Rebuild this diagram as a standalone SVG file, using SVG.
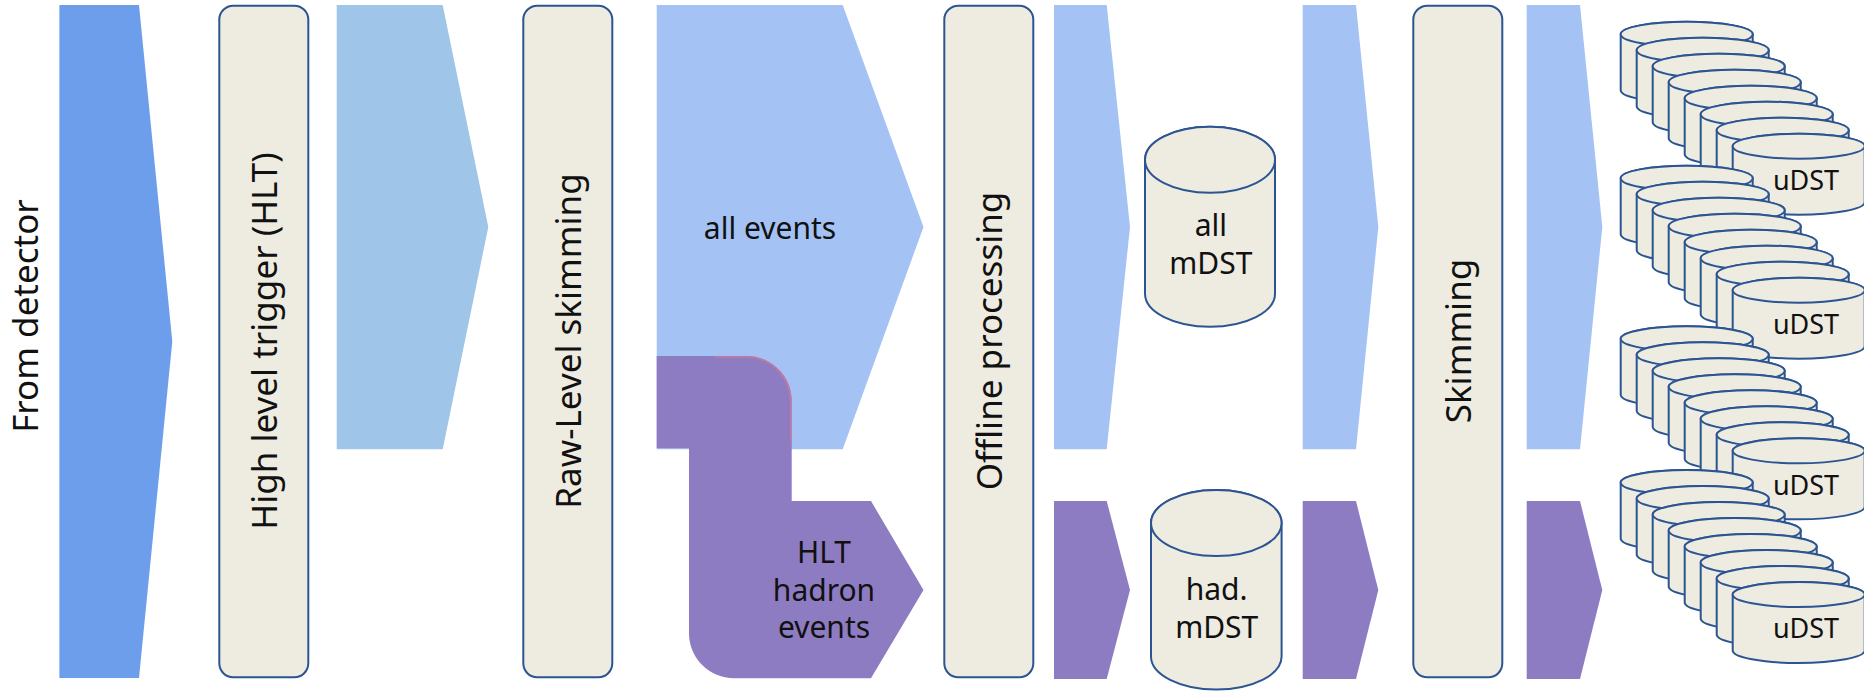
<svg xmlns="http://www.w3.org/2000/svg" xmlns:xlink="http://www.w3.org/1999/xlink" width="1864" height="692" viewBox="0 0 1864 692">
  <style>
    .box { fill: #eeebe0; stroke: #2b5592; stroke-width: 2; }
    .cyl { fill: #eeebe0; stroke: #2b5592; stroke-width: 2; }
    .vt { font-family: "Noto Sans", "Open Sans", sans-serif; font-size: 35px; fill: #111; text-anchor: middle; }
    .lbl { font-family: "Noto Sans", "Open Sans", sans-serif; font-size: 30px; fill: #111; text-anchor: middle; }
    .mlbl { font-family: "Noto Sans", "Open Sans", sans-serif; font-size: 30px; fill: #111; text-anchor: middle; }
    .ulbl { font-family: "Noto Sans", "Open Sans", sans-serif; font-size: 27px; fill: #111; text-anchor: middle; }
    .dark { fill: #6d9eeb; }
    .light1 { fill: #9fc5e8; }
    .light { fill: #a4c2f4; }
    .purple { fill: #8e7cc3; }
  </style>
  <defs>
    <g id="ucyl">
      <path class="cyl" d="M0,12.5 L0,68.5 A66,12.5 0 0 0 132,68.5 L132,12.5 A66,12.5 0 0 0 0,12.5 Z"/>
      <ellipse class="cyl" cx="66" cy="12.5" rx="66" ry="12.5"/>
    </g>
    <g id="ustack">
      <use xlink:href="#ucyl" x="0" y="0"/>
      <use xlink:href="#ucyl" x="16" y="16"/>
      <use xlink:href="#ucyl" x="32" y="32"/>
      <use xlink:href="#ucyl" x="48" y="48"/>
      <use xlink:href="#ucyl" x="64" y="64"/>
      <use xlink:href="#ucyl" x="80" y="80"/>
      <use xlink:href="#ucyl" x="96" y="96"/>
      <use xlink:href="#ucyl" x="112" y="112"/>
    </g>
  </defs>

  <g id="connectors">
    <polygon class="dark" points="59.4,5 139,5 172.3,341.5 139,678 59.4,678"/>
    <polygon class="light1" points="336.7,5 442.7,5 488.3,227 442.7,449.3 336.7,449.3"/>
    <polygon class="light" points="656.7,5 842.7,5 923.5,227 842.7,449.3 656.7,449.3"/>
    <path class="purple" d="M656.7,356 L746.7,356 A45,45 0 0 1 791.7,401 L791.7,501 L871,501 L923.5,590 L871,678.3 L734,678.3 A45,45 0 0 1 689,633.3 L689,448.3 L656.7,448.3 Z"/>
    <path d="M715,357 L746.7,357 A44,44 0 0 1 790.7,401 L790.7,442" fill="none" stroke="#c47a9c" stroke-width="1.5"/>
    <polygon class="light" points="1054,5 1106.7,5 1130,227 1106.7,449.3 1054,449.3"/>
    <polygon class="purple" points="1054,501 1106.7,501 1130,590 1106.7,679 1054,679"/>
    <polygon class="light" points="1302.7,5 1356,5 1378.3,227 1356,449.3 1302.7,449.3"/>
    <polygon class="purple" points="1302.7,501 1356,501 1378.3,590 1356,679 1302.7,679"/>
    <polygon class="light" points="1526.7,5 1580,5 1602.3,227 1580,449.3 1526.7,449.3"/>
    <polygon class="purple" points="1526.7,501 1580,501 1602.3,590 1580,679 1526.7,679"/>
  </g>

  <g id="label-from-detector">
    <text class="vt" transform="translate(38,316) rotate(-90)">From detector</text>
  </g>
  <g id="label-all-events">
    <text class="lbl" x="770" y="239.3">all events</text>
  </g>
  <g id="label-hlt-hadron">
    <text class="lbl" x="824" y="563.3">HLT</text>
    <text class="lbl" x="824" y="601.3">hadron</text>
    <text class="lbl" x="824" y="638.3">events</text>
  </g>

  <g id="node-hlt">
    <rect class="box" x="219.3" y="5.7" width="89" height="671.6" rx="14"/>
    <text class="vt" transform="translate(277,341) rotate(-90)">High level trigger (HLT)</text>
  </g>
  <g id="node-raw-skimming">
    <rect class="box" x="523.3" y="5.7" width="89" height="671.6" rx="14"/>
    <text class="vt" transform="translate(581,341) rotate(-90)">Raw-Level skimming</text>
  </g>
  <g id="node-offline">
    <rect class="box" x="944.3" y="5.7" width="89" height="671.6" rx="14"/>
    <text class="vt" transform="translate(1002,341) rotate(-90)">Offline processing</text>
  </g>
  <g id="node-skimming">
    <rect class="box" x="1413.3" y="5.7" width="89" height="671.6" rx="14"/>
    <text class="vt" transform="translate(1471,341) rotate(-90)">Skimming</text>
  </g>

  <g id="node-all-mdst">
    <path class="cyl" d="M1145,159.7 L1145,293.7 A65,33 0 0 0 1275,293.7 L1275,159.7 A65,33 0 0 0 1145,159.7 Z"/>
    <ellipse class="cyl" cx="1210" cy="159.7" rx="65" ry="33"/>
    <text class="mlbl" x="1210.8" y="236">all</text>
    <text class="mlbl" x="1210.8" y="274">mDST</text>
  </g>
  <g id="node-had-mdst">
    <path class="cyl" d="M1151,523 L1151,656.6 A65.3,33 0 0 0 1281.6,656.6 L1281.6,523 A65.3,33 0 0 0 1151,523 Z"/>
    <ellipse class="cyl" cx="1216.3" cy="523" rx="65.3" ry="33"/>
    <text class="mlbl" x="1216.7" y="600.4">had.</text>
    <text class="mlbl" x="1216.7" y="638">mDST</text>
  </g>

  <g id="node-udst-1">
    <use xlink:href="#ustack" x="1620.7" y="21.7"/>
    <text class="ulbl" x="1806" y="190">uDST</text>
  </g>
  <g id="node-udst-2">
    <use xlink:href="#ustack" x="1620.7" y="165.7"/>
    <text class="ulbl" x="1806" y="334.3">uDST</text>
  </g>
  <g id="node-udst-3">
    <use xlink:href="#ustack" x="1620.7" y="326.3"/>
    <text class="ulbl" x="1806" y="494.5">uDST</text>
  </g>
  <g id="node-udst-4">
    <use xlink:href="#ustack" x="1620.7" y="470"/>
    <text class="ulbl" x="1806" y="638">uDST</text>
  </g>
</svg>
